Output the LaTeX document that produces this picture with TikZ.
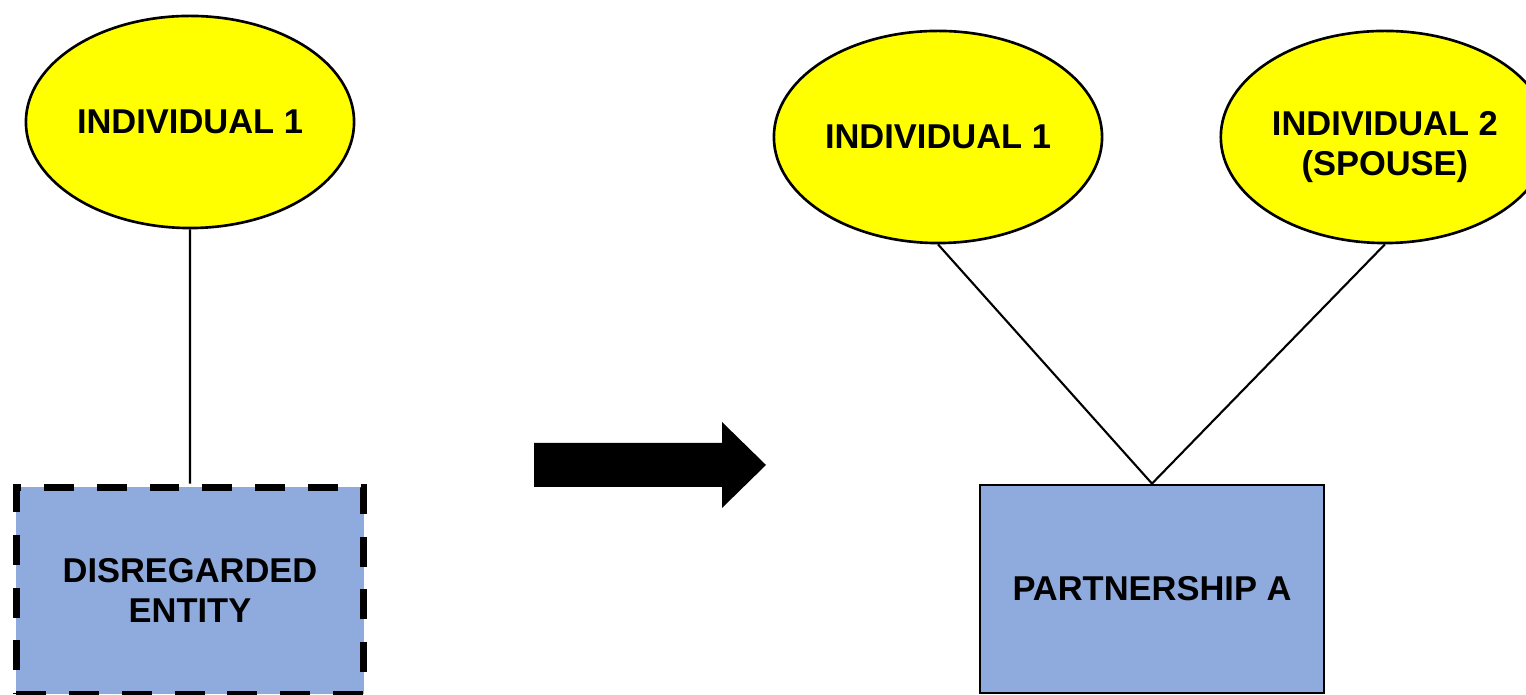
\documentclass[tikz,border=0pt]{standalone}
\usepackage{fontspec}
\setmainfont{Liberation Sans}
\usepackage{xcolor}
\usepackage{tikz}
\usetikzlibrary{positioning,shapes.geometric}

\definecolor{ownyellow}{HTML}{FFFF00}
\definecolor{entblue}{HTML}{8FAADC}

\begin{document}
\begin{tikzpicture}[x=0.01cm,y=-0.01cm,line width=0.75pt,
    font=\fontsize{9.8}{11.4}\selectfont\bfseries,
    owner/.style={ellipse,draw,fill=ownyellow,inner sep=0pt,align=center,
        minimum width=3.28cm,minimum height=2.12cm},
    entity/.style={rectangle,draw,fill=entblue,align=center,
        minimum width=3.45cm,minimum height=2.08cm},
    disregarded/.style={line width=2pt,dash pattern=on 8.5pt off 6.5pt}]

\clip (0,0) rectangle (1526,695);

\node[owner] (Ind_1) at (190,122) {INDIVIDUAL 1};
\node[entity,disregarded,minimum width=3.47cm,minimum height=2.07cm] (DE) [below=2.54cm of Ind_1] {DISREGARDED\\ENTITY};

\node[owner] (Ind_1b) at (938,137) {INDIVIDUAL 1};
\node[owner,label={[align=center,yshift=-0.1cm]center:INDIVIDUAL 2\\(SPOUSE)}] (Ind_2) [right=1.16cm of Ind_1b] {};
\node[entity,minimum width=3.44cm] (PA) at (1152,589) {PARTNERSHIP A};

\path[draw,line width=0.6pt]
    (Ind_1.south)  -- (DE.north)
    (Ind_1b.south) -- (PA.north)
    (Ind_2.south)  -- (PA.north);

% block arrow
\fill (534,443) -- (722,443) -- (722,422) -- (766,465) -- (722,508)
    -- (722,487) -- (534,487) -- cycle;

\end{tikzpicture}
\end{document}
